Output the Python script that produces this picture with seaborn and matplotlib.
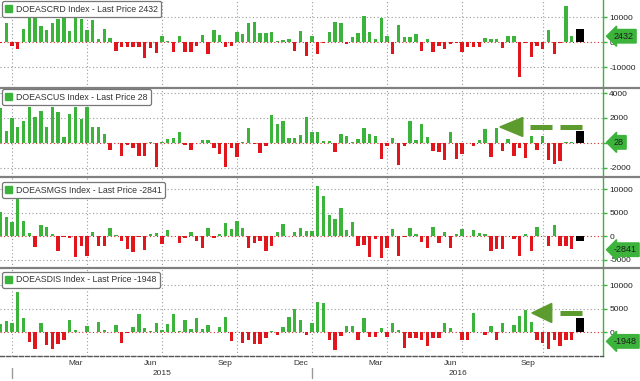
import matplotlib
matplotlib.use('Agg')
import matplotlib.pyplot as plt
import matplotlib.dates as mdates
import matplotlib.transforms as mtransforms
from matplotlib.patches import Patch, Polygon
from matplotlib.lines import Line2D
import numpy as np
import pandas as pd
import seaborn as sns

# weekly DOE inventory changes (Friday dated), late Dec 2014 .. Nov 2016
weeks = pd.date_range('2014-12-19', periods=100, freq='7D')
marker_date = pd.Timestamp('2016-11-21')

tickers = ['DOEASCRD', 'DOEASCUS', 'DOEASMGS', 'DOEASDIS']
last_price = [2432, 28, -2841, -1948]
marker_height = [5200, 930, -1000, 2950]

crude = [-400, 7600, -1300, -2700, 5300, 9600, 9900, 6500, 4900, 7900,
         9400, 10200, 4700, 9800, 9300, 4900, 9000, 1300, 5300, 1900,
         -3500, -1700, -1700, -1700, -2000, -6400, -2400, -4400,
         2500, 500, -4000, 2500, -4000, -4000, -1300, 2800, -4800, 4900, 2800, -1700, -1300,
         4300, 3300, 7600, 8000, 3600, 3600, 4300, 500, 900, 1200, -3300, 4700, -5500, 2700, -4700,
         -200, 4300, 8300, 7900, -700, 2300, 3600, 10500, 4300, 1300,
         9600, 2500, -4700, 6900, 2300, 2300, 3200, -3300, 1300, -4000,
         -1300, -2800, -700, -400, -4000, -2000, -2000, -2000, 1600, 1300,
         1200, -2100, 2700, 2700, -14000, -400, -6000, -1500, -2700, 4900,
         -4700, -400, 14700, 2500]

cushing = [2800, 960, 2000, 1300, 1760, 2900, 2100, 2560, 1230, 2900,
           2480, 480, 2350, 2900, 1950, 2900, 1280, 1280, 700, -590,
           -50, -1040, -190, -450, -1040, -1070, 80, -1920, 80, 290,
           400, 830, -190, -590, -30, 210, 210, -450, -930, -1970,
           -450, -1120, 80, 1150, -130, -800, -240, 2210, 1490, 1760,
           400, 400, 610, 2080, 880, 880,
           100, 160, -770, 690, 500, 30, 290, 1170, 690, 560,
           -1280, -240, 370, -1810, -240, 1760, 240, 1520, 450, -690,
           -750, -1360, 900, -1300, -900, -50, -290, 240, 1090, -1150,
           1170, -690, 320, -1040, -430, -1230, 500, -610, 560, -1360,
           -1680, -1440, 60, 20]

gasoline = [5200, 4150, 3100, 8600, 3200, 630, -2320, 2390, 2040, 420,
            -3030, -100, -300, -4300, -2000, -4090, 850, -2000, -2000, 1850,
            280, -1000, -2700, -3270, -210, -2910, 430, 640, -1700, 1350,
            150, -1490, -280, 850, -1000, -2560, 1700, -280, 430, 2770,
            1490, 3270, 1850, -2560, -1490, -1000, -3130, -2000, 990, 2560,
            100, 850, 1700, 1210, 1140, 10700,
            8450, 4540, 3620, 5960, 1350, 3000, -2060, -1850, -4330, -570,
            -4540, -2410, 1490, -4120, -100, 1700, 500, -1140, -2410, 2060,
            -1490, 990, -2560, 500, 1560, 150, 1350, 780, 430, -3130,
            -2700, -2700, 150, -570, -4120, 500, -3130, 2060, 150, -2000,
            2410, -2000, -2060, -2700]

distillate = [1800, 2460, 2040, 8600, 2960, -2110, -3520, 1900, -2820, -3520,
              -2460, -1620, 2600, 490, 150, 1410, 150, 2110, 490, 100,
              1620, -2250, -210, 1060, 3870, 920, 350, 1900, 490, 1760,
              3870, 350, 2670, 700, 2960, 700, 1620, 150, 1060, 3170,
              -1900, 150, -2320, -1620, -2460, -2600, -1200, 350, -490, 1200,
              3170, 4930, 2600, -490, 1900, 6340,
              6130, -1550, -3870, -700, 1270, 1410, -1550, 2960, -920, -1060,
              920, -920, 1900, 560, -3310, -1200, -1200, -1550, -2960, -1200,
              -1200, 1900, 850, 150, -1620, -1620, 4080, 150, -490, 1270,
              -1760, 1970, 150, 1620, 3380, 4720, 2250, -1760, -2320, -3520,
              -1760, -3030, -1760, -1760]

series = [crude, cushing, gasoline, distillate]
y_ticks = [[10000, 0, -10000], [4000, 2000, 0, -2000],
           [10000, 5000, 0, -5000], [10000, 5000, 0]]
y_limits = [(-18280, 16920), (-2766, 4411), (-6716, 12564), (-4950, 13650)]

GREEN = '#3cb43c'
RED = '#e0161c'
ARROW = '#5c9c2f'
GRID = '#9a9a9a'

W, H = 640, 381
AX_W = 603
edges = [0, 88, 177, 268, 355.5]

sns.set_style('white')
plt.rcParams['font.family'] = ['Liberation Sans', 'DejaVu Sans']

fig = plt.figure(figsize=(W / 100, H / 100), dpi=100)

xnum = mdates.date2num(weeks)
day0 = mdates.date2num(pd.Timestamp('2015-01-02'))
xlim = (day0 - 12 / 0.8242, day0 + (AX_W - 12) / 0.8242)

# first bar of every month / quarter / year
wk = pd.Series(weeks)
month_first = wk.groupby(wk.dt.to_period('M')).min()
quarter_first = wk.groupby(wk.dt.to_period('Q')).min()
year_first = wk.groupby(wk.dt.year).min()
quarter_first = quarter_first[quarter_first >= pd.Timestamp('2015-01-01')]
month_first = month_first[month_first >= pd.Timestamp('2015-01-01')]
year_first = year_first[year_first >= pd.Timestamp('2015-01-01')]

legend_off = [1, 1, 5, 4]
axes = []
for i, (name, vals) in enumerate(zip(tickers, series)):
    top, bot = edges[i], edges[i + 1]
    ax = fig.add_axes([0, 1 - bot / H, AX_W / W, (bot - top) / H])
    axes.append(ax)
    df = pd.DataFrame({'x': xnum, 'v': vals})
    df['dir'] = np.where(df['v'] >= 0, 'up', 'down')
    sns.barplot(data=df, x='x', y='v', hue='dir', native_scale=True, dodge=False,
                palette={'up': GREEN, 'down': RED}, width=0.58, errorbar=None,
                legend=False, saturation=1, ax=ax, zorder=2, linewidth=0)
    ax.bar(mdates.date2num(marker_date), marker_height[i], width=10,
           color='black', zorder=2, linewidth=0)

    ax.set_xlim(xlim)
    ax.set_ylim(y_limits[i])
    ax.set_xlabel('')
    ax.set_ylabel('')

    # grid
    for t in y_ticks[i]:
        if t == 0:
            ax.axhline(0, color='#cc2a2a', lw=0.8, ls=(0, (1, 2.2)), zorder=1)
        else:
            ax.axhline(t, color=GRID, lw=0.8, ls=(0, (1, 2.2)), zorder=1)
    for d in quarter_first:
        ax.axvline(mdates.date2num(d), color=GRID, lw=0.8, ls=(0, (1, 2.2)), zorder=1)

    # right axis
    ax.yaxis.tick_right()
    ax.set_yticks(y_ticks[i])
    ax.set_yticklabels([str(t) for t in y_ticks[i]])
    ax.tick_params(axis='y', which='major', direction='out', length=3, width=1,
                   color=GREEN, labelcolor='#222222', labelsize=6, pad=1.5)
    for s in ['top', 'left', 'bottom']:
        ax.spines[s].set_visible(False)
    ax.spines['right'].set_color(GREEN)
    ax.spines['right'].set_linewidth(1)
    ax.set_xticks([])

    # last-price tag
    tr = mtransforms.blended_transform_factory(ax.transAxes, ax.transData)
    ax.text(1.018, last_price[i], f'{last_price[i]}', transform=tr,
            ha='left', va='center', fontsize=6.5, color='#1e1e1e', zorder=6,
            bbox=dict(boxstyle='larrow,pad=0.25', fc=GREEN, ec=GREEN))

    # legend box
    h_ax = bot - top
    leg = ax.legend(handles=[Patch(facecolor=GREEN, edgecolor=GREEN,
                                   label=f'{name} Index - Last Price {last_price[i]}')],
                    loc='upper left', bbox_to_anchor=(0.003, 1 - legend_off[i] / h_ax),
                    borderaxespad=0, fontsize=6.3, frameon=True, fancybox=True,
                    framealpha=1, edgecolor='#777777', handlelength=0.8,
                    handleheight=0.8, handletextpad=0.4, borderpad=0.4)
    leg.get_frame().set_linewidth(0.9)
    leg.set_zorder(5)
    for t in leg.get_texts():
        t.set_color('#333333')

# bottom axis of last panel
ax4 = axes[-1]
ax4.spines['bottom'].set_visible(True)
ax4.spines['bottom'].set_color('#555555')
ax4.spines['bottom'].set_linestyle((0, (3, 1.5)))
ax4.spines['bottom'].set_linewidth(1)
ax4.set_xticks(mdates.date2num(month_first))
ax4.set_xticklabels([])
ax4.tick_params(axis='x', direction='out', length=2.5, width=0.8, color='#555555')

trx = mtransforms.blended_transform_factory(ax4.transData, ax4.transAxes)
mf = list(month_first)
for j in range(len(mf) - 1):
    if mf[j].month in (3, 6, 9, 12):
        c = (mdates.date2num(mf[j]) + mdates.date2num(mf[j + 1])) / 2
        ax4.text(c, -0.086, mf[j].strftime('%b'), transform=trx, ha='center',
                 va='center', fontsize=6, color='#333333')
yf = list(year_first)
for j, d in enumerate(yf):
    x0 = mdates.date2num(d)
    x1 = mdates.date2num(yf[j + 1]) if j + 1 < len(yf) else xlim[1]
    ax4.text((x0 + x1) / 2, -0.205, str(d.year), transform=trx, ha='center',
             va='center', fontsize=6, color='#333333')
    ax4.plot([x0, x0], [-0.143, -0.257], transform=trx, color='#999999',
             lw=1, clip_on=False)

# dashed green arrows
def arrow(ax, tip, base, tail, half_h):
    ax.plot([tail[0], base[0]], [tail[1], base[1]], transform=ax.transAxes,
            color=ARROW, lw=3.6, dashes=(4.4, 1.6), dash_capstyle='butt',
            zorder=4, clip_on=False)
    ax.add_patch(Polygon([tip, (base[0], base[1] + half_h),
                          (base[0], base[1] - half_h)], closed=True,
                         transform=ax.transAxes, color=ARROW, zorder=4))

arrow(axes[1], (0.829, 0.562), (0.867, 0.562), (0.965, 0.562), 0.107)
arrow(axes[3], (0.882, 0.486), (0.915, 0.486), (0.965, 0.486), 0.109)

# panel separators
for y in edges[1:4]:
    fig.add_artist(Line2D([0, 1], [1 - y / H, 1 - y / H], transform=fig.transFigure,
                          color='#808080', lw=1.6))

fig.savefig('out.png', dpi=100)
